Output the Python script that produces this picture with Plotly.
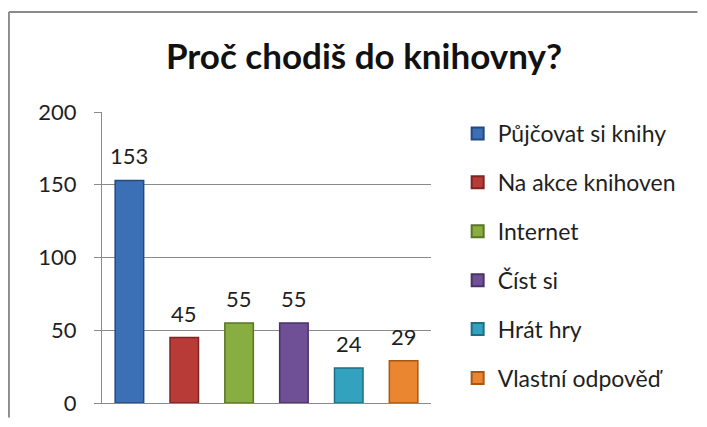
import plotly.graph_objects as go

# Data
categories = ["Půjčovat si knihy", "Na akce knihoven", "Internet", "Číst si", "Hrát hry", "Vlastní odpověď"]
counts = [153, 45, 55, 55, 24, 29]
colors = ["#3b6fb6", "#b93b38", "#88ad40", "#6f5097", "#32a2be", "#ea8530"]
edges = ["#24497e", "#7e2422", "#5a7526", "#4a3366", "#1d6f84", "#a85814"]
y_ticks = [0, 50, 100, 150, 200]

FONT = "Lato, 'Noto Sans', sans-serif"
TXT = "#1f1f1f"

fig = go.Figure()
for name, val, col, edge in zip(categories, counts, colors, edges):
    fig.add_trace(go.Bar(
        x=[name], y=[val], name=name, legendgroup=name,
        width=0.52,
        marker=dict(color=col, line=dict(color=edge, width=1.5)),
        hoverinfo="x+y",
    ))
    fig.add_annotation(x=name, y=val, text=str(val), showarrow=False,
                       yanchor="bottom", yshift=9,
                       font=dict(family=FONT, size=22, color=TXT))

# chart frame (cropped at right and bottom in the reference), kept inside the figure
frame = dict(type="line", xref="paper", yref="paper",
             line=dict(color="#8a8a8a", width=2))
fig.add_shape(**frame, x0=-0.283, x1=-0.283, y0=-0.05, y1=1.344)
fig.add_shape(**frame, x0=-0.283, x1=1.81, y0=1.344, y1=1.344)

# page body has an 8px margin, so the figure is shrunk to fit without scrollbars
W, H = 691, 411
fig.update_layout(
    width=W, height=H,
    margin=dict(l=94, r=W - 423, t=104, b=H - 395, autoexpand=False),
    paper_bgcolor="white", plot_bgcolor="white",
    title=dict(text="<b>Proč chodiš do knihovny?</b>", x=356 / W, xanchor="center",
               y=1 - 49 / H, yanchor="middle",
               font=dict(family=FONT, size=35, color="#111111")),
    font=dict(family=FONT, size=22, color=TXT),
    showlegend=True,
    legend=dict(x=1.081, y=1.0, xanchor="left", yanchor="top",
                font=dict(family=FONT, size=23, color=TXT),
                tracegroupgap=16, itemsizing="constant"),
    bargap=0.48,
)
fig.update_xaxes(showticklabels=False, showgrid=False, showline=True,
                 linecolor="#8a8a8a", linewidth=1, ticks="")
fig.update_yaxes(range=[0, 200], tickvals=y_ticks, showgrid=True,
                 gridcolor="#8a8a8a", gridwidth=1, showline=True,
                 linecolor="#8a8a8a", linewidth=1, ticks="outside",
                 ticklen=7, tickcolor="#8a8a8a", zeroline=False,
                 ticklabelstandoff=13,
                 tickfont=dict(family=FONT, size=22, color=TXT))

fig.write_html("out.html")
